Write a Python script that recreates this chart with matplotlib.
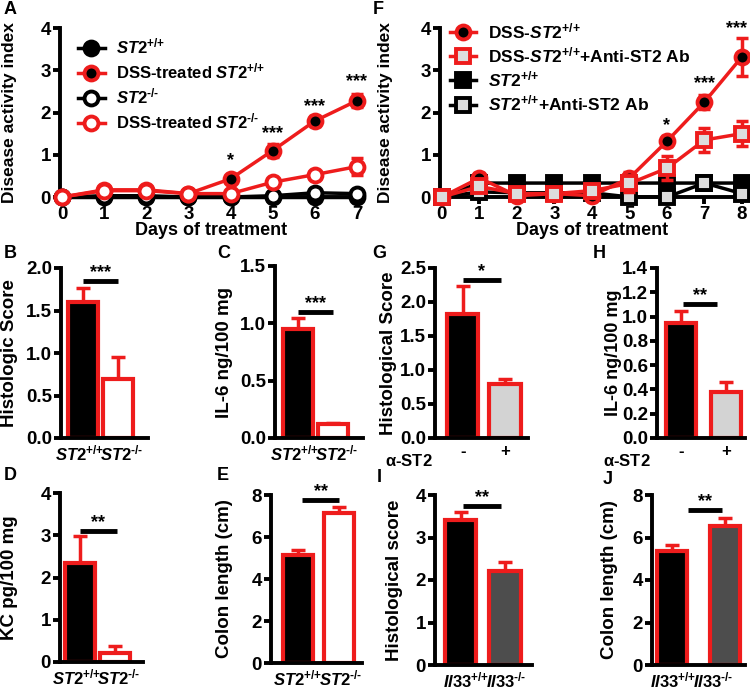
import matplotlib
matplotlib.use("Agg")
import matplotlib.pyplot as plt

plt.rcParams['font.family'] = ['Liberation Sans', 'DejaVu Sans']
plt.rcParams['font.weight'] = 'bold'
plt.rcParams['axes.labelweight'] = 'bold'
plt.rcParams['mathtext.fontset'] = 'custom'
plt.rcParams['mathtext.rm'] = 'Liberation Sans:bold'
plt.rcParams['mathtext.it'] = 'Liberation Sans:bold:italic'
plt.rcParams['mathtext.bf'] = 'Liberation Sans:bold'
plt.rcParams['mathtext.default'] = 'it'

W, H = 750, 691
RED = '#ee1c1c'

# ---- data ----
days_a = [0, 1, 2, 3, 4, 5, 6, 7]
a_wt = [0, 0, 0, 0, 0, 0, 0, 0]
a_dss_wt = [0, 0.17, 0.17, 0.08, 0.43, 1.1, 1.8, 2.28]
a_dss_wt_err = [0, 0.05, 0.05, 0.03, 0.07, 0.15, 0.12, 0.15]
a_ko = [0, 0.03, 0.03, 0, 0, 0.03, 0.1, 0.08]
a_dss_ko = [0, 0.15, 0.15, 0.08, 0.08, 0.35, 0.53, 0.72]
a_dss_ko_err = [0, 0.04, 0.04, 0.03, 0.03, 0.05, 0.06, 0.2]
a_stars = {4: (0.85, '*'), 5: (1.5, '***'), 6: (2.15, '***'), 7: (2.72, '***')}

days_f = [0, 1, 2, 3, 4, 5, 6, 7, 8]
f_dss = [0, 0.45, 0.03, 0.08, 0.03, 0.45, 1.32, 2.25, 3.32]
f_dss_err = [0, 0.12, 0.05, 0.05, 0.05, 0.15, 0.12, 0.17, 0.45]
f_dss_ab = [0, 0.25, 0.08, 0.08, 0.15, 0.32, 0.68, 1.35, 1.5]
f_dss_ab_err = [0, 0.1, 0.05, 0.05, 0.08, 0.2, 0.28, 0.28, 0.3]
f_wt = [0, 0.33, 0.33, 0.33, 0.33, 0.33, 0.33, 0.33, 0.33]
f_wt_ab = [0, 0.12, 0.1, 0.1, 0.1, 0.0, 0.0, 0.33, 0.08]
f_stars = {6: (1.7, '*'), 7: (2.68, '***'), 8: (3.98, '***')}

st2_labels = [r'$ST2^{\text{+/+}}$', r'$ST2^{\text{-/-}}$']
il33_labels = [r'$Il33^{\text{+/+}}$', r'$Il33^{\text{-/-}}$']

b_vals, b_errs = [1.6, 0.7], [0.17, 0.25]
c_vals, c_errs = [0.95, 0.12], [0.1, 0.01]
d_vals, d_errs = [2.35, 0.22], [0.63, 0.15]
e_vals, e_errs = [5.15, 7.15], [0.25, 0.3]
g_vals, g_errs = [1.83, 0.8], [0.4, 0.07]
h_vals, h_errs = [0.95, 0.38], [0.1, 0.08]
i_vals, i_errs = [3.42, 2.22], [0.18, 0.2]
j_vals, j_errs = [5.35, 6.55], [0.28, 0.35]

fig = plt.figure(figsize=(W / 100, H / 100), dpi=100)


def px_axes(l, t, r, b):
    return fig.add_axes([l / W, 1 - b / H, (r - l) / W, (b - t) / H])


def style(ax):
    for s in ['top', 'right']:
        ax.spines[s].set_visible(False)
    for s in ['left', 'bottom']:
        ax.spines[s].set_linewidth(2.8)
    ax.tick_params(direction='out', width=2.8, length=5, labelsize=13.5, pad=1.5)


def letter(x, y, s):
    fig.text(x / W, 1 - y / H, s, fontsize=13, ha='left', va='center')


def ylab(ax, text, xpx, l, r, size=13.5):
    ax.set_ylabel(text, fontsize=size)
    ax.yaxis.set_label_coords((xpx - l) / (r - l), 0.5)


# ---- panel A ----
l, t, r, b = 60, 28, 362, 197
axA = px_axes(l, t, r, b)
style(axA)
axA.set_xlim(-0.05, 7.12)
axA.set_ylim(0, 4)
kw = dict(lw=2.5, ms=10, mew=2.8, clip_on=False)
axA.plot(days_a, a_wt, 'o-', color='black', mfc='black', zorder=3, label=st2_labels[0], **kw)
axA.errorbar(days_a, a_dss_wt, yerr=a_dss_wt_err, fmt='none', ecolor=RED, elinewidth=2.5,
             capsize=4, capthick=2.5, clip_on=False, zorder=4)
axA.plot(days_a, a_dss_wt, 'o-', color=RED, mfc='black', mec=RED, zorder=5,
         label=r'DSS-treated $ST2^{\text{+/+}}$', **kw)
axA.plot(days_a, a_ko, 'o-', color='black', mfc='white', zorder=3, label=st2_labels[1], **kw)
axA.errorbar(days_a, a_dss_ko, yerr=a_dss_ko_err, fmt='none', ecolor=RED, elinewidth=2.5,
             capsize=4, capthick=2.5, clip_on=False, zorder=4)
axA.plot(days_a, a_dss_ko, 'o-', color=RED, mfc='white', mec=RED, zorder=5,
         label=r'DSS-treated $ST2^{\text{-/-}}$', **kw)
for d, (y, s) in a_stars.items():
    axA.text(d, y, s, ha='center', va='center', fontsize=13, clip_on=False)
axA.set_xticks(days_a)
axA.set_yticks([0, 1, 2, 3, 4])
axA.set_xlabel('Days of treatment', fontsize=13, labelpad=-1)
ylab(axA, 'Disease activity index', 17, l, r, 12.5)
axA.legend(loc='upper left', bbox_to_anchor=(78 / W, 1 - 37 / H), bbox_transform=fig.transFigure,
           frameon=False, fontsize=12, handlelength=1.6, handletextpad=0.7, labelspacing=0.3,
           borderpad=0, borderaxespad=0)
letter(4, 9, 'A')

# ---- panel F ----
l, t, r, b = 440, 28, 745, 197
axF = px_axes(l, t, r, b)
style(axF)
axF.set_xlim(-0.05, 8.08)
axF.set_ylim(0, 4)
axF.errorbar(days_f, f_dss, yerr=f_dss_err, fmt='none', ecolor=RED, elinewidth=2.5,
             capsize=4, capthick=2.5, clip_on=False, zorder=4)
axF.errorbar(days_f, f_dss_ab, yerr=f_dss_ab_err, fmt='none', ecolor=RED, elinewidth=2.5,
             capsize=4, capthick=2.5, clip_on=False, zorder=4)
axF.plot(days_f, f_wt, 's-', color='black', mfc='black', zorder=3, label=st2_labels[0], **kw)
axF.plot(days_f, f_wt_ab, 's-', color='black', mfc='#dddddd', zorder=3,
         label=r'$ST2^{\text{+/+}}$+Anti-ST2 Ab', **kw)
axF.plot(days_f, f_dss, 'o-', color=RED, mfc='black', mec=RED, zorder=5,
         label=r'DSS-$ST2^{\text{+/+}}$', **kw)
axF.plot(days_f, f_dss_ab, 's-', color=RED, mfc='#dddddd', mec=RED, zorder=5,
         label=r'DSS-$ST2^{\text{+/+}}$+Anti-ST2 Ab', **kw)
for d, (y, s) in f_stars.items():
    axF.text(min(d, 7.85), y, s, ha='center', va='center', fontsize=13, clip_on=False)
axF.set_xticks(days_f)
axF.set_yticks([0, 1, 2, 3, 4])
axF.set_xlabel('Days of treatment', fontsize=13, labelpad=-1)
ylab(axF, 'Disease activity index', 393, l, r, 12.5)
hs, ls = axF.get_legend_handles_labels()
order = [2, 3, 0, 1]
axF.legend([hs[i] for i in order], [ls[i] for i in order], loc='upper left',
           bbox_to_anchor=(450 / W, 1 - 21 / H), bbox_transform=fig.transFigure,
           frameon=False, fontsize=12.5, handlelength=1.5, handletextpad=0.7, labelspacing=0.25,
           borderpad=0, borderaxespad=0)
letter(373, 9, 'F')


# ---- bar panels ----
def bar_panel(box, cents, wpx, vals, errs, fills, ylim, yticks, ylabel, ylx,
              sig, sig_y, sig_txt, xlabels, fmt, ysize=13.5, xt=(-0.1, 1.1)):
    l, t, r, b = box
    ax = px_axes(l, t, r, b)
    style(ax)
    unit = cents[1] - cents[0]
    ax.set_xlim((l - cents[0]) / unit, (r - cents[0]) / unit)
    ax.set_ylim(*ylim)
    ax.bar([0, 1], vals, width=wpx / unit, color=fills, edgecolor=RED, linewidth=3, zorder=2)
    ax.errorbar([0, 1], vals, yerr=[[0, 0], errs], fmt='none', ecolor=RED, elinewidth=2.5,
                capsize=5, capthick=2.5, zorder=1)
    ax.plot(sig, [sig_y, sig_y], color='black', lw=3.5, solid_capstyle='butt')
    ax.text(sum(sig) / 2, sig_y, sig_txt, ha='center', va='bottom', fontsize=13)
    ax.set_yticks(yticks)
    ax.set_yticklabels([fmt.format(v) for v in yticks])
    ax.set_xticks(list(xt))
    ax.set_xticklabels(xlabels, fontsize=12)
    ax.tick_params(axis='x', length=0, pad=4)
    ylab(ax, ylabel, ylx, l, r, ysize)
    return ax


bar_panel((61, 268, 148, 438), (83, 118), 30, b_vals, b_errs, ['black', 'white'],
          (0, 2), [0, 0.5, 1, 1.5, 2], 'Histologic Score', 18,
          (0, 1), 1.85, '***', st2_labels, '{:.1f}')
letter(4, 253, 'B')

bar_panel((275, 266, 363, 438), (298, 333), 30, c_vals, c_errs, ['black', 'white'],
          (0, 1.5), [0, 0.5, 1, 1.5], 'IL-6 ng/100 mg', 233,
          (0, 1), 1.1, '***', st2_labels, '{:.1f}')
letter(217, 253, 'C')

axG = bar_panel((435, 268, 528, 438), (463, 505), 31, g_vals, g_errs, ['black', '#d3d3d3'],
                (0, 2.5), [0, 0.5, 1, 1.5, 2, 2.5], 'Histological Score', 397,
                (0, 0.9), 2.32, '*', ['-', '+'], '{:.1f}', xt=(0, 1))
axG.text(-1.3, -0.135, r'$\mathrm{\alpha}$-ST2', transform=axG.get_xaxis_transform(),
         ha='center', va='center', fontsize=12)
letter(372, 253, 'G')

axH = bar_panel((657, 268, 745, 438), (681, 726), 30, h_vals, h_errs, ['black', '#d3d3d3'],
                (0, 1.4), [0, 0.2, 0.4, 0.6, 0.8, 1.0, 1.2, 1.4], 'IL-6 ng/100 mg', 622,
                (0.05, 0.8), 1.1, '**', ['-', '+'], '{:.1f}', ysize=13, xt=(0, 1))
axH.text(-1.2, -0.135, r'$\mathrm{\alpha}$-ST2', transform=axH.get_xaxis_transform(),
         ha='center', va='center', fontsize=12)
letter(593, 253, 'H')

bar_panel((60, 493, 143, 662), (80, 115), 30, d_vals, d_errs, ['black', 'white'],
          (0, 4), [0, 1, 2, 3, 4], 'KC pg/100 mg', 18,
          (0, 1.05), 3.1, '**', st2_labels, '{:.0f}')
letter(4, 476, 'D')

bar_panel((271, 495, 362, 663), (298, 339), 30, e_vals, e_errs, ['black', 'white'],
          (0, 8), [0, 2, 4, 6, 8], 'Colon length (cm)', 233,
          (0.1, 1.0), 7.75, '**', st2_labels, '{:.0f}', xt=(0, 1.05))
letter(217, 476, 'E')

bar_panel((435, 495, 532, 665), (461, 505), 31, i_vals, i_errs, ['black', '#4d4d4d'],
          (0, 4), [0, 1, 2, 3, 4], 'Histological score', 403,
          (0.05, 0.9), 3.75, '**', il33_labels, '{:.0f}', xt=(0.12, 1.02))
letter(377, 478, 'I')

bar_panel((652, 495, 745, 665), (672, 725), 30, j_vals, j_errs, ['black', '#4d4d4d'],
          (0, 8), [0, 2, 4, 6, 8], 'Colon length (cm)', 618,
          (0.3, 0.95), 7.3, '**', il33_labels, '{:.0f}', xt=(0.02, 0.78))
letter(603, 479, 'J')

fig.savefig('out.png', dpi=100)
